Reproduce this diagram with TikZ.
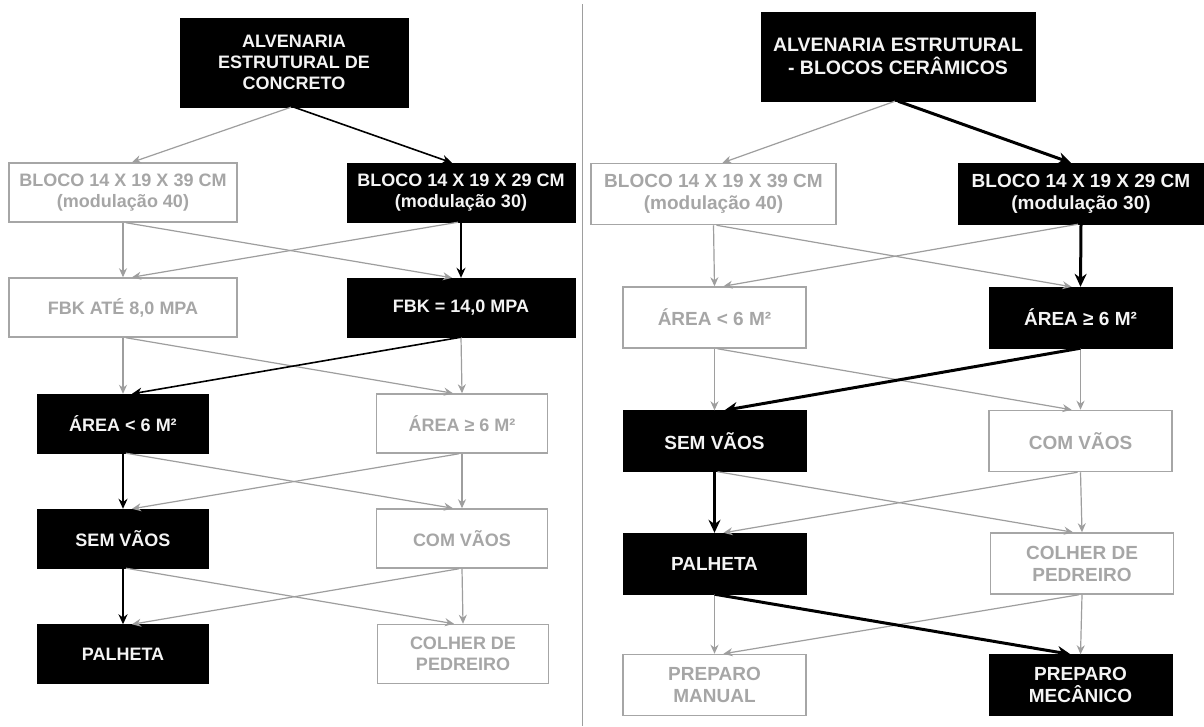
\documentclass[tikz,border=0pt]{standalone}
\usepackage{fontspec}
\setmainfont{Liberation Sans}
\usepackage{tikz}
\usetikzlibrary{arrows.meta}
\definecolor{LineG}{RGB}{158,158,158}
\definecolor{TextG}{RGB}{166,166,166}
\definecolor{TextW}{RGB}{244,244,244}
\newcommand\fntL{\fontsize{18}{21}\selectfont\bfseries}
\newcommand\fntR{\fontsize{19}{22}\selectfont\bfseries}

\begin{document}
\begin{tikzpicture}[x=1pt,y=-1pt,
    onbox/.style={fill=black,draw=black,text=TextW,align=center,inner sep=0pt},
    offbox/.style={fill=white,draw=TextG,line width=1.5pt,text=TextG,align=center,inner sep=0pt},
    wideL/.style={minimum width=228pt,minimum height=59pt,font=\fntL},
    narrowL/.style={minimum width=171pt,minimum height=59pt,font=\fntL},
    wideR/.style={minimum width=245pt,minimum height=61pt,font=\fntR},
    narrowR/.style={minimum width=183pt,minimum height=61pt,font=\fntR},
    offarr/.style={draw=LineG,line width=1.2pt,-{Stealth[length=9pt,width=8pt]}},
    onarrL/.style={draw=black,line width=1.6pt,-{Stealth[length=10pt,width=9pt]}},
    onarrR/.style={draw=black,line width=3pt,-{Stealth[length=13pt,width=12pt]}}]
  \useasboundingbox (0,0) rectangle (1204,726);
  \fill[white] (0,0) rectangle (1204,726);
  \draw[LineG,line width=1pt] (582,4) -- (582,726);

  % left: concrete blocks
  \node[onbox,wideL,minimum height=89pt] (topL) at (294,62.5) {ALVENARIA\\ESTRUTURAL DE\\CONCRETO};
  \node[offbox,wideL] (b39L)  at (123,192.5) {BLOCO 14 X 19 X 39 CM\\(modulação 40)};
  \node[onbox,wideL]  (b29L)  at (461,192.5) {BLOCO 14 X 19 X 29 CM\\(modulação 30)};
  \node[offbox,wideL] (fbk8)  at (123,307.5) {FBK ATÉ 8,0 MPA};
  \node[onbox,wideL]  (fbk14) at (461,307.5) {FBK = 14,0 MPA};
  \node[onbox,narrowL]  (a6L)  at (123,423.5) {ÁREA < 6 M²};
  \node[offbox,narrowL] (ag6L) at (462,423.5) {ÁREA ≥ 6 M²};
  \node[onbox,narrowL]  (semL) at (123,538.5) {SEM VÃOS};
  \node[offbox,narrowL] (comL) at (462,538.5) {COM VÃOS};
  \node[onbox,narrowL]  (palL) at (123,654) {PALHETA};
  \node[offbox,narrowL] (colL) at (463,654) {COLHER DE\\PEDREIRO};

  % right: ceramic blocks
  \node[onbox,minimum width=274pt,minimum height=89pt,font=\fontsize{19.5}{23}\selectfont\bfseries] (topR) at (898,56.5) {ALVENARIA ESTRUTURAL\\- BLOCOS CERÂMICOS};
  \node[offbox,wideR] (b39R) at (713.5,194) {BLOCO 14 X 19 X 39 CM\\(modulação 40)};
  \node[onbox,wideR]  (b29R) at (1081,193.5) {BLOCO 14 X 19 X 29 CM\\(modulação 30)};
  \node[offbox,narrowR] (a6R)  at (714.5,317.5) {ÁREA < 6 M²};
  \node[onbox,narrowR]  (ag6R) at (1080.5,317.5) {ÁREA ≥ 6 M²};
  \node[onbox,narrowR]  (semR) at (714.5,441) {SEM VÃOS};
  \node[offbox,narrowR] (comR) at (1080.5,441) {COM VÃOS};
  \node[onbox,narrowR]  (palR) at (714.5,563.5) {PALHETA};
  \node[offbox,narrowR] (colR) at (1082,563.5) {COLHER DE\\PEDREIRO};
  \node[offbox,narrowR] (manR) at (714.5,685) {PREPARO\\MANUAL};
  \node[onbox,narrowR]  (mecR) at (1080.5,685) {PREPARO\\MECÂNICO};

  % grey links
  \foreach \a/\b in {b39L/fbk8,fbk8/a6L,fbk14/ag6L,ag6L/comL,comL/colL,
                     b39R/a6R,a6R/semR,ag6R/comR,comR/colR,palR/manR,colR/mecR}
    \draw[offarr] (\a.south) -- (\b.north);
  \foreach \a/\b in {b39L/fbk14,fbk8/ag6L,a6L/comL,semL/colL,
                     b39R/ag6R,a6R/comR,semR/colR}
    \draw[offarr] ([xshift=3pt]\a.south) -- ([xshift=-9pt]\b.north);
  \foreach \a/\b in {topL/b39L,b29L/fbk8,ag6L/semL,comL/palL,
                     topR/b39R,b29R/a6R,comR/palR,colR/manR}
    \draw[offarr] ([xshift=-3pt]\a.south) -- ([xshift=9pt]\b.north);

  % chosen path
  \foreach \a/\b in {b29L/fbk14,a6L/semL,semL/palL}
    \draw[onarrL] (\a.south) -- (\b.north);
  \draw[onarrL] (topL.south) -- ([xshift=-9pt]b29L.north);
  \draw[onarrL] (fbk14.south) -- ([xshift=9pt]a6L.north);
  \foreach \a/\b in {b29R/ag6R,semR/palR}
    \draw[onarrR] (\a.south) -- (\b.north);
  \draw[onarrR] (topR.south) -- ([xshift=-10pt]b29R.north);
  \draw[onarrR] (palR.south) -- ([xshift=-10pt]mecR.north);
  \draw[onarrR] (ag6R.south) -- ([xshift=10pt]semR.north);
\end{tikzpicture}
\end{document}
